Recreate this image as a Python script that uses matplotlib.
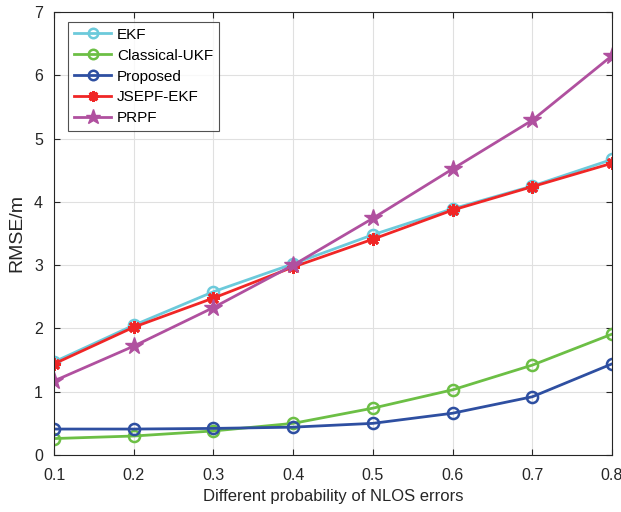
import matplotlib
matplotlib.use('Agg')
import matplotlib.pyplot as plt

plt.rcParams['font.family'] = ['Liberation Sans', 'DejaVu Sans']

# data
prob = [0.1, 0.2, 0.3, 0.4, 0.5, 0.6, 0.7, 0.8]
ekf = [1.47, 2.05, 2.58, 3.02, 3.48, 3.89, 4.25, 4.67]
ukf = [0.26, 0.30, 0.38, 0.50, 0.74, 1.03, 1.42, 1.91]
proposed = [0.41, 0.41, 0.42, 0.44, 0.50, 0.66, 0.92, 1.44]
jsepf = [1.44, 2.02, 2.48, 2.97, 3.41, 3.87, 4.24, 4.61]
prpf = [1.17, 1.72, 2.33, 3.00, 3.74, 4.52, 5.29, 6.31]

fig = plt.figure(figsize=(6.21, 5.12), dpi=100)
ax = fig.add_axes([54/621, 1 - 455/512, (612-54)/621, (455-12)/512])

lw = 2.0
ax.plot(prob, ekf, '-o', color='#6ccadb', lw=lw, ms=8, mfc='none', mew=1.8, label='EKF')
ax.plot(prob, ukf, '-o', color='#6cbf45', lw=lw, ms=8, mfc='none', mew=1.8, label='Classical-UKF')
ax.plot(prob, proposed, '-o', color='#2e4fa1', lw=lw, ms=8, mfc='none', mew=1.8, label='Proposed')
ax.plot(prob, jsepf, '-', color='#f02626', lw=lw, marker=(8, 2, 0), ms=9, mew=2.0, label='JSEPF-EKF')
ax.plot(prob, prpf, '-*', color='#b0509f', lw=lw, ms=13, label='PRPF')

ax.set_xlim(0.1, 0.8)
ax.set_ylim(0, 7)
ax.set_xticks(prob)
ax.set_xticklabels([f'{p:.1f}' for p in prob])
ax.set_yticks(range(8))
ax.grid(True, color='#e0e0e0', lw=0.8)
ax.set_axisbelow(True)
for s in ax.spines.values():
    s.set_color('#262626')
    s.set_linewidth(0.8)
ax.tick_params(direction='in', colors='#262626', labelsize=11.5, length=4, top=True, right=True,
               labeltop=False, labelright=False)
ax.tick_params(axis='x', pad=9)
ax.tick_params(axis='y', pad=8)
ax.set_xlabel('Different probability of NLOS errors', fontsize=12, color='#262626', labelpad=5)
ax.set_ylabel('RMSE/m', fontsize=14, color='#262626', labelpad=6)

leg = ax.legend(loc='upper left', fontsize=11, frameon=True, fancybox=False, edgecolor='#262626',
                bbox_to_anchor=(0.02, 0.985), borderaxespad=0.2, handlelength=2.4,
                labelspacing=0.45, handletextpad=0.4, markerscale=0.85)
leg.get_frame().set_linewidth(0.8)

fig.savefig('out.png', dpi=100)
